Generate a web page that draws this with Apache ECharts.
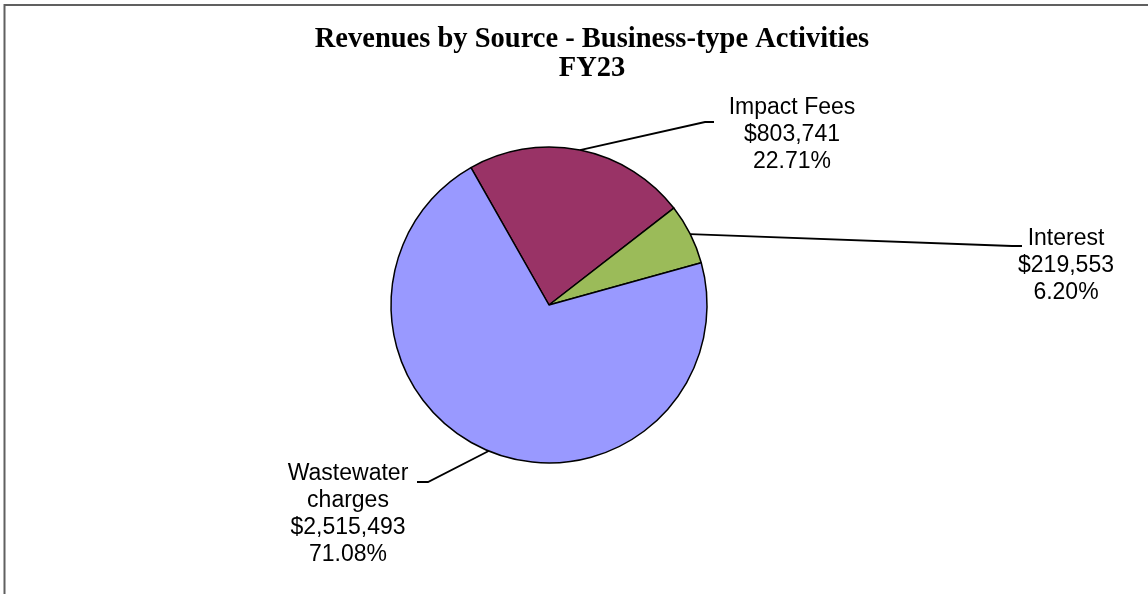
<!DOCTYPE html>
<html>
<head>
<meta charset="utf-8">
<script src="https://cdn.jsdelivr.net/npm/echarts@6/dist/echarts.min.js"></script>
<style>
    html, body { margin: 0; padding: 0; background: #fff; }
    #chart { width: 1148px; height: 594px; }
</style>
</head>
<body>
<div id="chart"></div>
<script>
// 数据
const sources = ["Impact Fees", "Interest", "Wastewater\ncharges"];
const revenues = [803741, 219553, 2515493];
const sliceColors = ["#993366", "#9BBB59", "#9999FF"];

// 标签位置（中心x, 顶部y, 引线拐点与终点）
const labelSpots = [
    { x: 792, y: 94, elbow: [705, 122], end: [714, 122] },
    { x: 1066, y: 225, elbow: [1012, 246], end: [1022, 246] },
    { x: 348, y: 460, elbow: [428, 482], end: [417, 482] },
];

const total = revenues.reduce((a, b) => a + b, 0);

const chart = echarts.init(document.getElementById("chart"));

chart.setOption({
    animation: false,
    title: {
        text: "Revenues by Source - Business-type Activities\nFY23",
        left: 592,
        top: 25,
        padding: 0,
        textAlign: "center",
        textStyle: {
            fontFamily: "Liberation Serif",
            fontWeight: "bold",
            fontSize: 28.5,
            lineHeight: 29,
            color: "#000",
        },
    },
    graphic: [
        {
            type: "polyline",
            shape: { points: [[4.5, 600], [4.5, 5], [1150, 5]] },
            style: { stroke: "#606060", lineWidth: 2, fill: null },
        },
    ],
    series: [
        {
            type: "pie",
            center: [549, 305],
            radius: 158,
            startAngle: 119.6,
            clockwise: true,
            itemStyle: { borderColor: "#000", borderWidth: 1.5 },
            label: {
                show: true,
                position: "outside",
                fontFamily: "Liberation Sans",
                fontSize: 23,
                lineHeight: 27,
                color: "#000",
                align: "center",
                formatter: p =>
                    p.name + "\n$" + p.value.toLocaleString("en-US") + "\n" + ((p.value / total) * 100).toFixed(2) + "%",
            },
            labelLine: {
                show: true,
                length: 10,
                length2: 10,
                lineStyle: { color: "#000", width: 1.8 },
            },
            labelLayout: function (params) {
                const spot = labelSpots[params.dataIndex];
                const start = params.labelLinePoints ? params.labelLinePoints[0] : spot.elbow;
                return {
                    x: spot.x,
                    y: spot.y,
                    align: "center",
                    verticalAlign: "top",
                    labelLinePoints: [start, spot.elbow, spot.end],
                };
            },
            data: sources.map((name, i) => ({
                name,
                value: revenues[i],
                itemStyle: { color: sliceColors[i] },
            })),
        },
    ],
});
</script>
</body>
</html>
